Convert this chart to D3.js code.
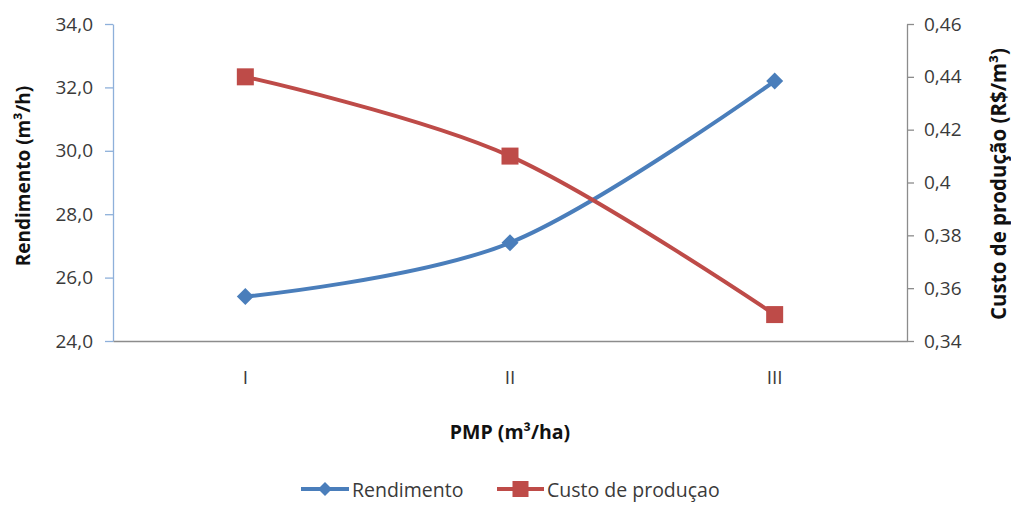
<!DOCTYPE html>
<html>
<head>
<meta charset="utf-8">
<script src="https://cdn.jsdelivr.net/npm/d3@7"></script>
<style>
  html, body { margin: 0; padding: 0; background: #fff; }
  svg { display: block; font-family: "Open Sans", sans-serif; }
</style>
</head>
<body>
<svg id="chart" width="1011" height="508"></svg>
<script>
// Categories and series values
const categories = ["I", "II", "III"];
const rendimento = [25.4, 27.1, 32.2];      // m³/h (left axis)
const custo = [0.44, 0.41, 0.35];           // R$/m³ (right axis)
const leftTicks = [24, 26, 28, 30, 32, 34];
const rightTicks = [0.34, 0.36, 0.38, 0.40, 0.42, 0.44, 0.46];
const seriesNames = ["Rendimento", "Custo de produçao"];

const blue = "#4A7EBB";
const red = "#BE4B48";
const textColor = "#3a3a3a";

const svg = d3.select("#chart");
const m = { left: 113, right: 907, top: 24, bottom: 341 };

const x = d3.scaleBand().domain(categories).range([m.left, m.right]);
const yL = d3.scaleLinear().domain([24, 34]).range([m.bottom, m.top]);
const yR = d3.scaleLinear().domain([0.34, 0.46]).range([m.bottom, m.top]);
const cx = d => x(d) + x.bandwidth() / 2;

const fmtL = d => d3.format(".1f")(d).replace(".", ",");
const fmtR = d => {
  let s = d3.format(".2f")(d);
  if (s.endsWith("0")) s = s.slice(0, -1);
  return s.replace(".", ",");
};

// Left axis
const gL = svg.append("g").attr("transform", `translate(${m.left},0)`)
  .call(d3.axisLeft(yL).tickValues(leftTicks).tickFormat(fmtL).tickSizeInner(8).tickSizeOuter(0).tickPadding(12));
gL.select(".domain").attr("stroke", "#8EB0DA").attr("stroke-width", 1.3);
gL.selectAll(".tick line").attr("stroke", "#8EB0DA").attr("stroke-width", 1.3);
gL.selectAll("text").attr("fill", textColor).style("font-size", "19px").style("font-family", "Open Sans");

// Right axis
const gR = svg.append("g").attr("transform", `translate(${m.right},0)`)
  .call(d3.axisRight(yR).tickValues(rightTicks).tickFormat(fmtR).tickSizeInner(7).tickSizeOuter(0).tickPadding(10));
gR.select(".domain").attr("stroke", "#8C8C8C").attr("stroke-width", 1.3);
gR.selectAll(".tick line").attr("stroke", "#8C8C8C").attr("stroke-width", 1.3);
gR.selectAll("text").attr("fill", textColor).style("font-size", "19px").style("font-family", "Open Sans");

// Category axis
const gX = svg.append("g").attr("transform", `translate(0,${m.bottom})`)
  .call(d3.axisBottom(x).tickSize(0).tickPadding(30));
gX.select(".domain").attr("stroke", "#8C8C8C").attr("stroke-width", 1.3);
gX.selectAll("text").attr("fill", textColor).style("font-size", "19px").style("font-family", "Open Sans");

// Axis titles
svg.append("text")
  .attr("transform", `translate(23,176) rotate(-90)`)
  .attr("text-anchor", "middle").attr("dominant-baseline", "central")
  .attr("fill", "#111").style("font-size", "19px").style("font-weight", "bold")
  .text("Rendimento (m³/h)");

svg.append("text")
  .attr("transform", `translate(998,184) rotate(-90)`)
  .attr("text-anchor", "middle").attr("dominant-baseline", "central")
  .attr("fill", "#111").style("font-size", "20.5px").style("font-weight", "bold")
  .text("Custo de produção (R$/m³)");

svg.append("text")
  .attr("x", (m.left + m.right) / 2).attr("y", 431)
  .attr("text-anchor", "middle").attr("dominant-baseline", "central")
  .attr("fill", "#111").style("font-size", "19.5px").style("font-weight", "bold")
  .text("PMP (m³/ha)");

// Smoothed lines
const curve = d3.curveCardinal.tension(0);
const lineL = d3.line().x((d, i) => cx(categories[i])).y(d => yL(d)).curve(curve);
const lineR = d3.line().x((d, i) => cx(categories[i])).y(d => yR(d)).curve(curve);

svg.append("path").datum(rendimento).attr("d", lineL)
  .attr("fill", "none").attr("stroke", blue).attr("stroke-width", 4).attr("stroke-linecap", "round");
svg.append("path").datum(custo).attr("d", lineR)
  .attr("fill", "none").attr("stroke", red).attr("stroke-width", 4).attr("stroke-linecap", "round");

const diamond = s => `M0,${-s}L${s},0L0,${s}L${-s},0Z`;

svg.selectAll(".mk-r").data(rendimento).enter().append("path")
  .attr("transform", (d, i) => `translate(${cx(categories[i])},${yL(d)})`)
  .attr("d", diamond(8.5)).attr("fill", blue);

svg.selectAll(".mk-c").data(custo).enter().append("rect")
  .attr("x", (d, i) => cx(categories[i]) - 8.5).attr("y", d => yR(d) - 8.5)
  .attr("width", 17).attr("height", 17).attr("fill", red);

// Legend
const legY = 489;
const leg = [
  { x0: 301, x1: 349, color: blue, marker: "diamond", label: seriesNames[0] },
  { x0: 497, x1: 544, color: red, marker: "square", label: seriesNames[1] }
];
leg.forEach(l => {
  svg.append("line").attr("x1", l.x0).attr("x2", l.x1).attr("y1", legY).attr("y2", legY)
    .attr("stroke", l.color).attr("stroke-width", 4);
  const mx = (l.x0 + l.x1) / 2;
  if (l.marker === "diamond") {
    svg.append("path").attr("transform", `translate(${mx},${legY})`).attr("d", diamond(7)).attr("fill", l.color);
  } else {
    svg.append("rect").attr("x", mx - 8).attr("y", legY - 8).attr("width", 16).attr("height", 16).attr("fill", l.color);
  }
  svg.append("text").attr("x", l.x1 + 3).attr("y", legY).attr("dominant-baseline", "central")
    .attr("fill", textColor).style("font-size", "19.5px").text(l.label);
});
</script>
</body>
</html>
